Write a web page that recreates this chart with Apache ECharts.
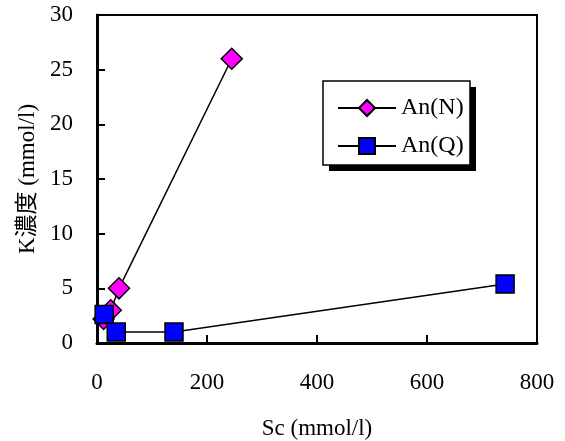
<!DOCTYPE html>
<html>
<head>
<meta charset="utf-8">
<script src="https://cdn.jsdelivr.net/npm/echarts@6/dist/echarts.min.js"></script>
<style>html,body{margin:0;padding:0;background:#fff;}#c{width:565px;height:441px;}</style>
</head>
<body>
<div id="c"></div>
<script>
var seriesNames = ['An(N)', 'An(Q)'];
var anN = [[12, 2.2], [25, 3.0], [40, 5.0], [245, 26.0]];
var anQ = [[13, 2.6], [35, 1.0], [140, 1.0], [742, 5.4]];
var xTicks = [0, 200, 400, 600, 800];
var yTicks = [0, 5, 10, 15, 20, 25, 30];
var xName = 'Sc (mmol/l)';
var yName = 'K濃度 (mmol/l)';

var FONT = '"Liberation Serif", "Times New Roman", "Noto Sans CJK JP", serif';
var chart = echarts.init(document.getElementById('c'), null, {renderer: 'canvas'});
chart.setOption({
  animation: false,
  backgroundColor: '#fff',
  textStyle: {fontFamily: FONT, color: '#000'},
  grid: {left: 97, right: 28, top: 15, bottom: 98, show: true, borderColor: '#000', borderWidth: 2, backgroundColor: 'transparent', containLabel: false, outerBoundsMode: 'none'},
  xAxis: {
    type: 'value', min: xTicks[0], max: xTicks[xTicks.length - 1], interval: 200,
    name: xName, nameLocation: 'middle', nameGap: 74,
    nameTextStyle: {fontFamily: FONT, fontSize: 23, color: '#000'},
    axisLine: {show: true, onZero: false, lineStyle: {color: '#000', width: 3}},
    axisTick: {show: true, inside: true, length: 8, lineStyle: {color: '#000', width: 2}},
    axisLabel: {fontFamily: FONT, fontSize: 23, color: '#000', margin: 28},
    splitLine: {show: false}
  },
  yAxis: {
    type: 'value', min: yTicks[0], max: yTicks[yTicks.length - 1], interval: 5,
    name: yName, nameLocation: 'middle', nameGap: 51,
    nameTextStyle: {fontFamily: FONT, fontSize: 23, color: '#000'},
    axisLine: {show: true, onZero: false, lineStyle: {color: '#000', width: 3}},
    axisTick: {show: true, inside: true, length: 8, lineStyle: {color: '#000', width: 2}},
    axisLabel: {fontFamily: FONT, fontSize: 23, color: '#000', margin: 24},
    splitLine: {show: false}
  },
  legend: {
    orient: 'vertical', left: 332, top: 91, itemWidth: 58, itemHeight: 20, itemGap: 14,
    textStyle: {fontFamily: FONT, fontSize: 24, color: '#000', padding: [0, 0, 0, 0]},
    data: seriesNames
  },
  graphic: [
    {type: 'rect', z: 0, shape: {x: 329, y: 87, width: 147, height: 84}, style: {fill: '#000'}},
    {type: 'rect', z: 1, shape: {x: 323, y: 81, width: 147, height: 84}, style: {fill: '#fff', stroke: '#000', lineWidth: 1.5}}
  ],
  series: [
    {
      name: seriesNames[0], type: 'line', data: anN, z: 3,
      symbol: 'diamond', symbolSize: [21, 21],
      lineStyle: {color: '#000', width: 1.5},
      itemStyle: {color: '#FF00FF', borderColor: '#000', borderWidth: 1.5}
    },
    {
      name: seriesNames[1], type: 'line', data: anQ, z: 4,
      symbol: 'rect', symbolSize: [18, 18],
      lineStyle: {color: '#000', width: 1.5},
      itemStyle: {color: '#0000FF', borderColor: '#000', borderWidth: 1.5}
    }
  ]
});
</script>
</body>
</html>
